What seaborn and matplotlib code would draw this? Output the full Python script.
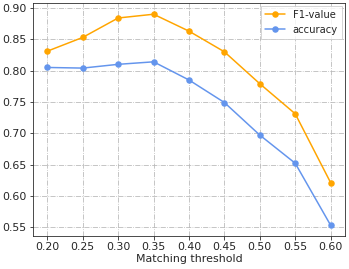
import pandas as pd
import seaborn as sns
import matplotlib.pyplot as plt

# values
thresholds = [0.20, 0.25, 0.30, 0.35, 0.40, 0.45, 0.50, 0.55, 0.60]
f1_value = [0.831, 0.853, 0.884, 0.890, 0.863, 0.830, 0.779, 0.731, 0.621]
accuracy = [0.805, 0.804, 0.810, 0.814, 0.785, 0.749, 0.697, 0.652, 0.553]

df = pd.DataFrame({
    "threshold": thresholds * 2,
    "score": f1_value + accuracy,
    "metric": ["F1-value"] * len(thresholds) + ["accuracy"] * len(thresholds),
})

sns.set_style("whitegrid", {"grid.linestyle": "-.", "grid.color": "#b8b8b8",
                            "axes.edgecolor": "#222222", "axes.linewidth": 0.8})
plt.rcParams["font.family"] = ["DejaVu Sans"]
plt.rcParams["font.size"] = 11

fig, ax = plt.subplots(figsize=(349 / 72, 269 / 72), dpi=72)
sns.lineplot(data=df, x="threshold", y="score", hue="metric",
             palette={"F1-value": "orange", "accuracy": "cornflowerblue"},
             marker="o", markersize=6.5, markeredgewidth=0, linewidth=1.5, ax=ax)

ax.set_xticks(thresholds)
ax.set_xticklabels([f"{t:.2f}" for t in thresholds])
ax.set_yticks([0.55, 0.60, 0.65, 0.70, 0.75, 0.80, 0.85, 0.90])
ax.set_xlim(0.18, 0.62)
ax.set_ylim(0.536, 0.908)
ax.set_xlabel("Matching threshold", fontsize=11, labelpad=2)
ax.set_ylabel("")
ax.tick_params(axis="both", labelsize=11, length=3.5, width=0.8, color="#222222", left=True, bottom=True, pad=3)
ax.legend(title=None, loc="upper right", fontsize=10, fancybox=False, framealpha=0.8, edgecolor="#cccccc",
          borderaxespad=0.3)

fig.subplots_adjust(left=0.095, right=0.988, top=0.989, bottom=0.123)
fig.savefig("out.png", dpi=72)
